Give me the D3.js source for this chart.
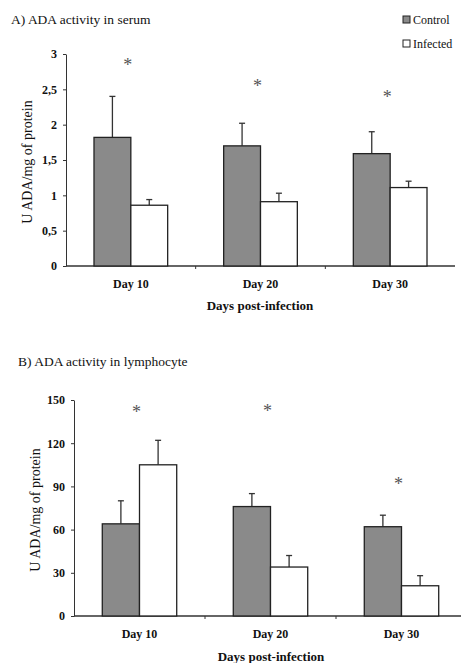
<!DOCTYPE html>
<head>
  <meta charset="utf-8">
  <title>ADA activity</title>
  <style>
    body { margin: 0; background: #fff; }
    svg { display: block; }
    text { font-family: "Liberation Serif", "Times New Roman", serif; fill: #111; }
    .axis path, .axis line { stroke: #333; }
    .axis text { font-family: "Liberation Serif", serif; font-size: 12px; fill: #111; }
  </style>
</head>
<body>
  <svg width="461" height="663"></svg>

  <script src="https://cdn.jsdelivr.net/npm/d3@7"></script>
  <script>

    // shared categories and series
    var days = ["Day 10", "Day 20", "Day 30"];
    var groups = ["Control", "Infected"];

    // A) serum
    var serumControl = [1.82, 1.70, 1.59];
    var serumControlErr = [0.58, 0.32, 0.31];
    var serumInfected = [0.86, 0.91, 1.11];
    var serumInfectedErr = [0.08, 0.12, 0.09];
    var serumStar = [2.87, 2.57, 2.42];
    var serumTicks = [0, 0.5, 1, 1.5, 2, 2.5, 3];

    // B) lymphocyte
    var lymphControl = [64, 76, 62];
    var lymphControlErr = [16, 9, 8];
    var lymphInfected = [105, 34, 21];
    var lymphInfectedErr = [17, 8, 7];
    var lymphStar = [143, 144, 93];
    var lymphTicks = [0, 30, 60, 90, 120, 150];

    var colors = {Control: "#8a8a8a", Infected: "#ffffff"};
    var svg = d3.select("svg");

    function drawPanel(opt) {
      var g = svg.append("g");

      var x0 = d3.scaleBand().domain(days).range([opt.left, opt.right]);
      var x1 = d3.scaleBand().domain(groups)
          .range([0, x0.bandwidth()]).paddingOuter(0.76).paddingInner(0);
      var y = d3.scaleLinear().domain([0, opt.max]).range([opt.bottom, opt.top]);

      var rows = days.map(function(d, i) {
        return {day: d, bars: [
          {key: "Control", value: opt.control[i], err: opt.controlErr[i]},
          {key: "Infected", value: opt.infected[i], err: opt.infectedErr[i]}
        ], star: opt.star[i]};
      });

      // y axis
      g.append("g")
          .attr("class", "axis")
          .attr("transform", "translate(" + opt.left + ",0)")
          .call(d3.axisLeft(y).tickValues(opt.ticks).tickSize(3).tickSizeOuter(0)
            .tickFormat(function(d) { return String(d).replace(".", ","); }))
          .call(function(a) { a.selectAll("text").attr("x", -9).style("font-weight", "bold"); });

      // x axis, ticks on category boundaries
      var xa = g.append("g")
          .attr("class", "axis")
          .attr("transform", "translate(0," + opt.bottom + ")");
      xa.append("line").attr("x1", opt.left).attr("x2", opt.right).attr("stroke-width", 1.3);
      xa.selectAll(".sep")
        .data(days.slice(1))
        .enter().append("line")
          .attr("x1", function(d) { return x0(d); })
          .attr("x2", function(d) { return x0(d); })
          .attr("y2", 3);
      xa.selectAll("text")
        .data(days)
        .enter().append("text")
          .attr("x", function(d) { return x0(d) + x0.bandwidth() / 2; })
          .attr("y", 22)
          .attr("text-anchor", "middle")
          .style("font-weight", "bold")
          .text(function(d) { return d; });

      var grp = g.append("g").selectAll("g")
        .data(rows)
        .enter().append("g")
          .attr("transform", function(d) { return "translate(" + x0(d.day) + ",0)"; });

      var bar = grp.selectAll("g")
        .data(function(d) { return d.bars; })
        .enter().append("g");

      // error bars (upper only)
      bar.append("line")
          .attr("x1", function(d) { return x1(d.key) + x1.bandwidth() / 2; })
          .attr("x2", function(d) { return x1(d.key) + x1.bandwidth() / 2; })
          .attr("y1", function(d) { return y(d.value); })
          .attr("y2", function(d) { return y(d.value + d.err); })
          .attr("stroke", "#333").attr("stroke-width", 1.3);
      bar.append("line")
          .attr("x1", function(d) { return x1(d.key) + x1.bandwidth() / 2 - 3; })
          .attr("x2", function(d) { return x1(d.key) + x1.bandwidth() / 2 + 3; })
          .attr("y1", function(d) { return y(d.value + d.err); })
          .attr("y2", function(d) { return y(d.value + d.err); })
          .attr("stroke", "#333").attr("stroke-width", 1.3);

      bar.append("rect")
          .attr("x", function(d) { return x1(d.key); })
          .attr("y", function(d) { return y(d.value); })
          .attr("width", x1.bandwidth())
          .attr("height", function(d) { return opt.bottom - y(d.value); })
          .attr("fill", function(d) { return colors[d.key]; })
          .attr("stroke", "#222").attr("stroke-width", 1.3);

      grp.append("text")
          .attr("x", x0.bandwidth() / 2 - 3)
          .attr("y", function(d) { return y(d.star) + 8; })
          .attr("text-anchor", "middle")
          .attr("font-size", 18)
          .style("fill", "#555")
          .text("*");

      // axis titles
      g.append("text")
          .attr("transform", "translate(" + opt.ylabelX + "," + opt.ylabelY + ") rotate(-90)")
          .attr("text-anchor", "middle")
          .attr("font-size", 14)
          .text("U ADA/mg of protein");
      g.append("text")
          .attr("x", opt.xlabelX)
          .attr("y", opt.xlabelY)
          .attr("text-anchor", "middle")
          .attr("font-size", 13)
          .attr("font-weight", "bold")
          .text("Days post-infection");
      g.append("text")
          .attr("x", opt.titleX)
          .attr("y", opt.titleY)
          .attr("font-size", 13.5)
          .text(opt.title);
    }

    drawPanel({
      title: "A) ADA  activity in serum", titleX: 11, titleY: 24,
      left: 66, right: 455, top: 54, bottom: 266, max: 3,
      control: serumControl, controlErr: serumControlErr,
      infected: serumInfected, infectedErr: serumInfectedErr,
      star: serumStar, ticks: serumTicks,
      ylabelX: 32, ylabelY: 162, xlabelX: 260, xlabelY: 310
    });

    drawPanel({
      title: "B) ADA  activity in lymphocyte", titleX: 18, titleY: 366,
      left: 74, right: 467, top: 400, bottom: 616, max: 150,
      control: lymphControl, controlErr: lymphControlErr,
      infected: lymphInfected, infectedErr: lymphInfectedErr,
      star: lymphStar, ticks: lymphTicks,
      ylabelX: 40, ylabelY: 510, xlabelX: 271, xlabelY: 661
    });

    // legend (panel A only)
    var legend = svg.append("g")
        .attr("font-size", 12)
      .selectAll("g")
      .data(groups)
      .enter().append("g")
        .attr("transform", function(d, i) { return "translate(403," + (20 + i * 24) + ")"; });
    legend.append("rect")
        .attr("x", 0).attr("y", -4)
        .attr("width", 7).attr("height", 7)
        .attr("fill", function(d) { return colors[d]; })
        .attr("stroke", "#222");
    legend.append("text")
        .attr("x", 10).attr("y", 3.5)
        .text(function(d) { return d; });

  </script>
</body>
